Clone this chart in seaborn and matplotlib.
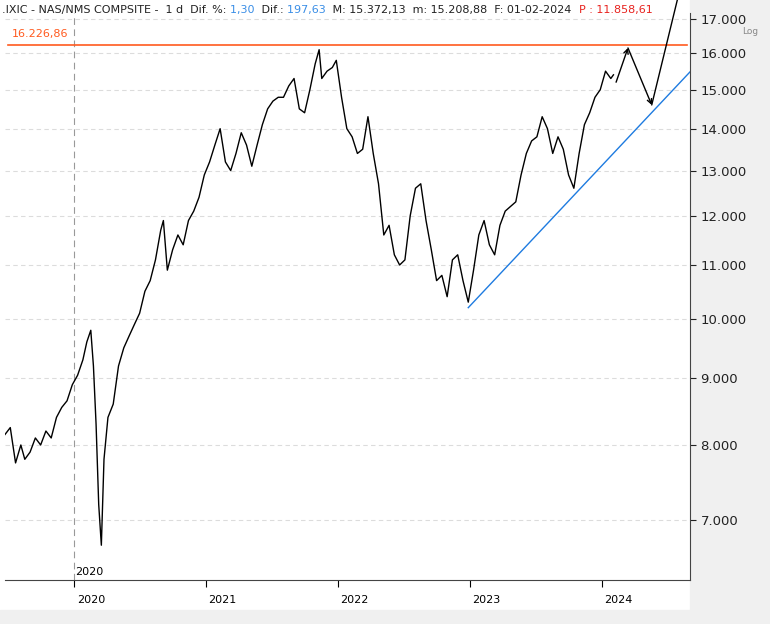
import matplotlib
matplotlib.use("Agg")
import matplotlib.pyplot as plt
import seaborn as sns
import pandas as pd
import numpy as np
from matplotlib.ticker import FixedLocator, NullLocator

# decimal-year positions and closing values
t = [2019.48,2019.52,2019.56,2019.60,2019.63,2019.67,2019.71,2019.75,2019.79,2019.83,2019.87,2019.91,2019.95,2019.99,
     2020.03,2020.07,2020.10,2020.13,2020.15,2020.17,2020.19,2020.21,2020.23,2020.26,2020.30,2020.34,2020.38,2020.42,2020.46,
     2020.50,2020.54,2020.58,2020.62,2020.66,2020.68,2020.71,2020.75,2020.79,2020.83,2020.87,2020.91,2020.95,2020.99,
     2021.03,2021.07,2021.11,2021.15,2021.19,2021.23,2021.27,2021.31,2021.35,2021.39,2021.43,2021.47,2021.51,2021.55,
     2021.59,2021.63,2021.67,2021.71,2021.75,2021.79,2021.83,2021.86,2021.88,2021.92,2021.96,2021.99,
     2022.03,2022.07,2022.11,2022.15,2022.19,2022.23,2022.27,2022.31,2022.35,2022.39,2022.43,2022.47,2022.51,2022.55,
     2022.59,2022.63,2022.67,2022.71,2022.75,2022.79,2022.83,2022.87,2022.91,2022.95,2022.99,
     2023.03,2023.07,2023.11,2023.15,2023.19,2023.23,2023.27,2023.31,2023.35,2023.39,2023.43,2023.47,2023.51,2023.55,
     2023.59,2023.63,2023.67,2023.71,2023.75,2023.79,2023.83,2023.87,2023.91,2023.95,2023.99,2024.03,2024.07,2024.09]
close = [8150,8250,7750,8000,7800,7900,8100,8000,8200,8100,8400,8550,8650,8900,
         9050,9300,9600,9800,9200,8300,7200,6700,7800,8400,8600,9200,9500,9700,9900,
         10100,10500,10700,11100,11700,11900,10900,11300,11600,11400,11900,12100,12400,12900,
         13200,13600,14000,13200,13000,13400,13900,13600,13100,13600,14100,14500,14700,14800,
         14800,15100,15300,14500,14400,15000,15700,16100,15300,15500,15600,15800,
         14800,14000,13800,13400,13500,14300,13400,12700,11600,11800,11200,11000,11100,12000,
         12600,12700,11900,11300,10700,10800,10400,11100,11200,10700,10300,
         10900,11600,11900,11400,11200,11800,12100,12200,12300,12900,13400,13700,13800,14300,
         14000,13400,13800,13500,12900,12600,13400,14100,14400,14800,15000,15500,15300,15400]

resist = 16226.86
trend_t = [2022.99, 2024.67]
trend_v = [10200, 15480]
proj_t = [2024.11, 2024.20, 2024.38, 2024.61]
proj_v = [15200, 16150, 14600, 18200]
yticks = [7000, 8000, 9000, 10000, 11000, 12000, 13000, 14000, 15000, 16000, 17000]
years = [2020, 2021, 2022, 2023, 2024]

df = pd.DataFrame({"t": t, "close": close})
fig = plt.figure(figsize=(7.7, 6.24), dpi=100)
fig.patch.set_facecolor("white")
ax = fig.add_axes([5/770, 44/624, 685/770, 567/624])
sns.lineplot(data=df, x="t", y="close", ax=ax, color="black", lw=1.0)
ax.set_yscale("log")
ax.set_ylim(6300, 17180)
ax.set_xlim(2019.48, 2024.67)
ax.set_xlabel(""); ax.set_ylabel("")

ax.yaxis.set_major_locator(FixedLocator(yticks))
ax.yaxis.set_minor_locator(NullLocator())
ax.set_yticklabels([f"{v:,}".replace(",", ".") for v in yticks])
ax.yaxis.tick_right()
ax.tick_params(axis="y", labelsize=9.5, colors="#222", length=4, direction="out")
ax.xaxis.set_major_locator(FixedLocator(years))
ax.set_xticklabels([])
ax.tick_params(axis="x", length=5)
for y in yticks:
    ax.axhline(y, color="#dcdcdc", lw=0.8, ls=(0, (4, 3)), zorder=0)
ax.axvline(2020, color="#999", lw=0.8, ls=(0, (6, 4)), zorder=0)
for s in ["top", "left"]:
    ax.spines[s].set_visible(False)
ax.spines["right"].set_color("#444"); ax.spines["bottom"].set_color("#444")

ax.axhline(resist, color="#ff5a1f", lw=1.2, xmin=0.004, xmax=0.995)
ax.text(2019.53, resist * 1.012, "16.226,86", color="#ff5a1f", fontsize=8, va="bottom")
ax.plot(trend_t, trend_v, color="#1e7be0", lw=1.0)
for i in range(len(proj_t) - 1):
    ax.annotate("", xy=(proj_t[i+1], proj_v[i+1]), xytext=(proj_t[i], proj_v[i]),
                arrowprops=dict(arrowstyle="->", color="black", lw=1.0, mutation_scale=8,
                                shrinkA=0, shrinkB=0),
                annotation_clip=False)
ax.text(2020.01, 6330, "2020", fontsize=8, va="bottom")

# bottom year labels
for x in years:
    fig.text((5 + (x - 2019.48) / 5.19 * 685 + 3) / 770, 1 - 600/624, str(x), fontsize=8, va="center")

# right side panel
fig.patches.append(plt.Rectangle((690/770, 0), 80/770, 1, transform=fig.transFigure, color="#f0f0f0", zorder=-1))
fig.patches.append(plt.Rectangle((0, 0), 1, 14/624, transform=fig.transFigure, color="#f0f0f0", zorder=-1))

# header
parts = [(".IXIC - NAS/NMS COMPSITE -  1 d  Dif. %: ", "#222"), ("1,30 ", "#3a8ee6"), (" Dif.: ", "#222"),
         ("197,63 ", "#3a8ee6"), (" M: 15.372,13  m: 15.208,88  F: 01-02-2024  ", "#222"), ("P : 11.858,61", "#e8231f")]
xx = 2 / 770
r = fig.canvas.get_renderer()
for s, c in parts:
    tt = fig.text(xx, 1 - 10/624, s, color=c, fontsize=8, va="center")
    xx += tt.get_window_extent(r).width / 770
fig.text(742/770, 1 - 32/624, "Log", fontsize=6.5, color="#888", va="center")
fig.savefig("out.png", dpi=100)
